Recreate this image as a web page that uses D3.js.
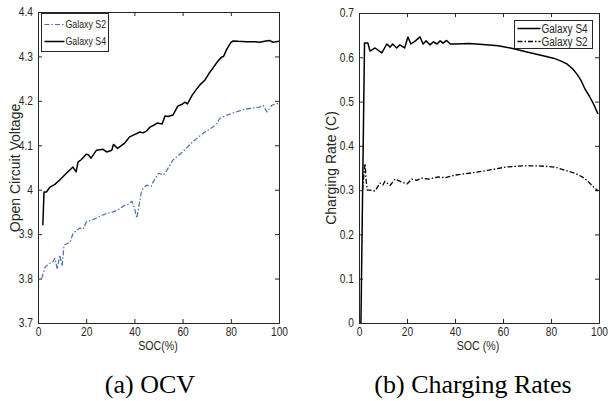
<!DOCTYPE html>
<html>
<head>
<meta charset="utf-8">
<script src="https://cdn.jsdelivr.net/npm/d3@7"></script>
<style>
  body { margin: 0; background: #fff; }
  text { fill: #262626; }
  .tick text { font-family: "Liberation Sans", Arial, sans-serif; font-size: 12px; fill: #262626; }
  .lab { font-family: "Liberation Sans", Arial, sans-serif; font-size: 14px; }
  .leg { font-family: "Liberation Sans", Arial, sans-serif; }
  .cap { font-family: "Liberation Serif", "DejaVu Serif", serif; font-size: 26px; fill: #000; }
</style>
</head>
<body>
<script>
// data: [SOC %, value]
var ocvS4 = [[2,3.92],[2.5,3.995],[3.5,3.995],[5,4.006],[7,4.012],[9,4.022],[12,4.038],[14.5,4.051],[15.8,4.04],[16.6,4.062],[18,4.068],[20,4.08],[21,4.078],[22,4.071],[24.3,4.089],[27,4.091],[28.5,4.085],[30.6,4.089],[31.3,4.102],[33,4.093],[36,4.105],[38,4.119],[40,4.124],[42.3,4.13],[43.5,4.128],[45,4.132],[46.5,4.141],[48,4.145],[49.4,4.15],[51.5,4.148],[52.7,4.166],[54,4.165],[56,4.168],[58,4.188],[60,4.193],[61,4.197],[62,4.193],[64,4.213],[66,4.228],[67.2,4.236],[69.3,4.247],[71,4.262],[72.6,4.274],[74.7,4.29],[76.3,4.299],[77,4.3],[78.4,4.317],[80,4.331],[81,4.335],[83,4.334],[86.7,4.333],[90,4.333],[92,4.332],[94,4.334],[96,4.336],[97.5,4.332],[100,4.334]];
var ocvS2 = [[1.5,3.80],[3,3.826],[5,3.835],[6.3,3.839],[7,3.846],[8,3.821],[9,3.853],[10,3.828],[10.8,3.875],[13.3,3.882],[14.6,3.902],[17.4,3.914],[18.7,3.911],[20,3.927],[23,3.933],[25.7,3.94],[28.6,3.947],[31,3.95],[33,3.954],[35.3,3.963],[37.3,3.967],[39,3.974],[40,3.96],[41,3.936],[43,3.998],[45,4.01],[47,4.008],[47.7,4.017],[50,4.037],[52,4.033],[53.5,4.044],[56,4.067],[60,4.085],[64,4.107],[68.5,4.127],[72.6,4.141],[74.3,4.15],[75.5,4.161],[78,4.167],[81,4.173],[84,4.178],[86.7,4.182],[92,4.186],[93.4,4.19],[95,4.175],[97,4.19],[100,4.195]];
var rateS4 = [[0.8,0],[2.3,0.632],[3.7,0.632],[4.6,0.614],[6.7,0.621],[9.5,0.610],[11.6,0.630],[13,0.623],[14,0.630],[15.7,0.621],[17,0.628],[19,0.621],[20.4,0.646],[21.6,0.63],[23.5,0.637],[25.4,0.646],[26.7,0.63],[28,0.637],[29.6,0.628],[31,0.635],[32.5,0.63],[33.8,0.637],[35,0.632],[36.5,0.638],[38,0.63],[40,0.630],[46,0.631],[51.6,0.629],[58,0.626],[64,0.620],[70,0.612],[74,0.607],[78,0.602],[81,0.598],[84,0.592],[86.6,0.585],[89,0.574],[90.8,0.562],[92.5,0.548],[94,0.530],[96,0.512],[97.5,0.497],[99.6,0.472]];
var rateS2 = [[1.5,0.30],[2.2,0.345],[2.5,0.36],[3,0.32],[3.5,0.30],[4.6,0.30],[6.7,0.298],[8.7,0.316],[10,0.312],[10.8,0.32],[13,0.311],[15,0.325],[17.9,0.318],[20,0.314],[22,0.325],[24,0.322],[26,0.327],[29,0.325],[33,0.33],[36,0.328],[40,0.334],[47,0.339],[54,0.345],[61,0.352],[68,0.355],[74.6,0.355],[81.7,0.352],[87,0.343],[90,0.338],[93,0.33],[95,0.322],[97,0.311],[99.6,0.298]];

var socTicks = [0,20,40,60,80,100];
var ocvTicks = [3.7,3.8,3.9,4,4.1,4.2,4.3,4.4];
var rateTicks = [0,0.1,0.2,0.3,0.4,0.5,0.6,0.7];

var svg = d3.select("body").append("svg").attr("width",608).attr("height",401);

var fmt = function(d){ return String(+d.toFixed(1)); };

function narrow(sel,f){
  //squeeze text horizontally, no narrow font installed
  sel.each(function(){
    var L = this.getComputedTextLength();
    if(L>0) d3.select(this).attr("textLength",L*f).attr("lengthAdjust","spacingAndGlyphs");
  });
}

function makePanel(x0,y0,w,h,yDomain,yTicks){
  //box with matlab-like inward ticks on all sides
  var g = svg.append("g").attr("transform","translate("+x0+","+y0+")");
  var x = d3.scaleLinear().domain([0,100]).range([0,w]);
  var y = d3.scaleLinear().domain(yDomain).range([h,0]);

  g.append("g").attr("transform","translate(0,"+h+")")
    .call(d3.axisBottom(x).tickValues(socTicks).tickFormat(fmt).tickSizeInner(-4).tickSizeOuter(0).tickPadding(4));
  g.append("g")
    .call(d3.axisTop(x).tickValues(socTicks).tickFormat("").tickSizeInner(-4).tickSizeOuter(0));
  g.append("g")
    .call(d3.axisLeft(y).tickValues(yTicks).tickFormat(fmt).tickSizeInner(-4).tickSizeOuter(0).tickPadding(5));
  g.append("g").attr("transform","translate("+w+",0)")
    .call(d3.axisRight(y).tickValues(yTicks).tickFormat("").tickSizeInner(-4).tickSizeOuter(0));

  g.selectAll(".domain").attr("stroke","#262626");
  g.selectAll(".tick line").attr("stroke","#262626");
  narrow(g.selectAll(".tick text"),0.85);
  return {g:g, x:x, y:y};
}

function addLine(p,data,color,dash,width){
  var line = d3.line().x(function(d){ return p.x(d[0]); }).y(function(d){ return p.y(d[1]); });
  p.g.append("path").datum(data)
    .attr("d",line)
    .attr("fill","none")
    .attr("stroke",color)
    .attr("stroke-width",width)
    .attr("stroke-linejoin","round")
    .attr("stroke-dasharray",dash);
}

function addLegend(bx,by,bw,bh,items,size){
  var leg = svg.append("g").attr("transform","translate("+bx+","+by+")");
  leg.append("rect").attr("width",bw).attr("height",bh)
    .attr("fill","#fff").attr("stroke","#262626").attr("stroke-width",1);
  items.forEach(function(it){
    leg.append("line").attr("x1",it.x1).attr("x2",it.x2).attr("y1",it.y).attr("y2",it.y)
      .attr("stroke",it.color).attr("stroke-width",it.width).attr("stroke-dasharray",it.dash);
    leg.append("text").attr("class","leg").attr("x",it.x2+1).attr("y",it.y)
      .attr("dy","0.35em").style("font-size",size+"px").text(it.name);
  });
  narrow(leg.selectAll("text"),0.8);
}

// (a) OCV
var pa = makePanel(38,12,241,311,[3.7,4.4],ocvTicks);
addLine(pa,ocvS2,"#4a6db3","5,2,1.5,2",1.2);
addLine(pa,ocvS4,"#000","none",1.5);
addLegend(41.5,13.5,67,38,[
  {name:"Galaxy S2", y:11, x1:3, x2:23, color:"#4a6db3", dash:"5,2,1.5,2", width:1.2},
  {name:"Galaxy S4", y:28, x1:3, x2:23, color:"#000", dash:"none", width:1.5}
],11);

svg.append("text").attr("class","lab").attr("text-anchor","middle")
  .attr("transform","translate(20,168) rotate(-90)").text("Open Circuit Voltage");
var xa = svg.append("text").attr("class","lab").attr("text-anchor","middle")
  .style("font-size","13px").attr("x",158).attr("y",350).text("SOC(%)");
narrow(xa,0.82);
svg.append("text").attr("class","cap").attr("text-anchor","middle")
  .attr("x",150).attr("y",393).text("(a) OCV");

// (b) Charging Rates
var pb = makePanel(359,13,240,310,[0,0.7],rateTicks);
addLine(pb,rateS2,"#000","5,2,1.5,2",1.3);
addLine(pb,rateS4,"#000","none",1.5);
addLegend(514.5,20.5,78,28,[
  {name:"Galaxy S4", y:8, x1:3, x2:26, color:"#000", dash:"none", width:1.5},
  {name:"Galaxy S2", y:21, x1:3, x2:26, color:"#000", dash:"5,2,1.5,2", width:1.3}
],12.5);

svg.append("text").attr("class","lab").attr("text-anchor","middle")
  .attr("transform","translate(336,168) rotate(-90)").text("Charging Rate (C)");
var xb = svg.append("text").attr("class","lab").attr("text-anchor","middle")
  .style("font-size","13px").attr("x",478).attr("y",350).text("SOC (%)");
narrow(xb,0.82);
svg.append("text").attr("class","cap").attr("text-anchor","middle")
  .attr("x",473).attr("y",393).text("(b) Charging Rates");
</script>
</body>
</html>
